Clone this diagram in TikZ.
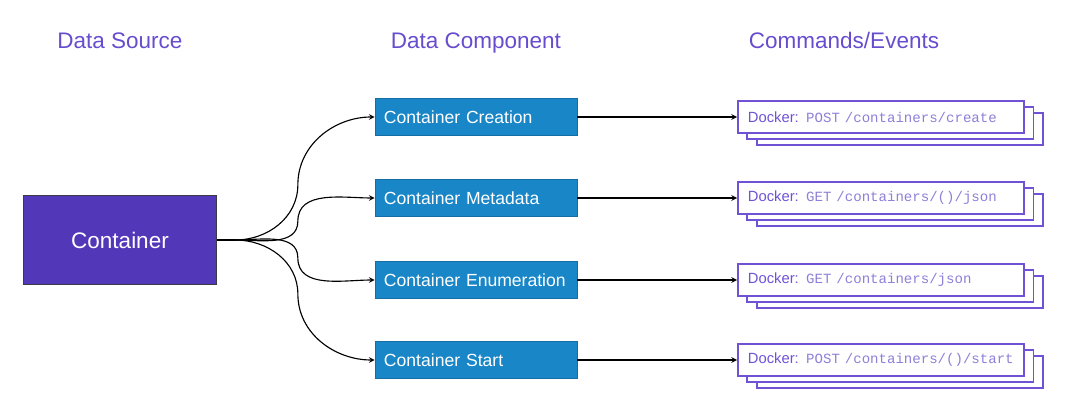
\documentclass[tikz,border=0pt]{standalone}
\usepackage{fontspec}
\setmainfont{Liberation Sans}
\setmonofont{Liberation Mono}
\usetikzlibrary{shadows,calc}

\definecolor{srcpurple}{RGB}{83,55,185}
\definecolor{srcborder}{RGB}{60,58,72}
\definecolor{compblue}{RGB}{24,134,199}
\definecolor{compborder}{RGB}{22,108,165}
\definecolor{titlepurple}{RGB}{104,76,206}
\definecolor{dockerpurple}{RGB}{112,82,212}
\definecolor{monopurple}{RGB}{142,128,216}

\begin{document}
\begin{tikzpicture}[
        x=0.025cm, y=-0.025cm,
        heading/.style={anchor=base, text=titlepurple, font=\fontsize{16}{19}\selectfont},
        source/.style={rectangle, draw=srcborder, fill=srcpurple, minimum width=4.825cm,
            minimum height=2.225cm, text=white, font=\fontsize{16}{19}\selectfont},
        component/.style={rectangle, draw=compborder, fill=compblue, text width=4.6cm,
            inner xsep=0.225cm, minimum height=0.925cm, align=left, text=white,
            font=\fontsize{12.5}{15}\selectfont},
        command/.style={rectangle, draw=dockerpurple, fill=white, line width=1.3pt,
            text width=6.65cm, inner xsep=0.25cm, minimum height=0.8cm, align=left,
            text=dockerpurple, font=\fontsize{10.5}{12}\selectfont,
            copy shadow={shadow xshift=0.475cm, shadow yshift=-0.3cm},
            copy shadow={shadow xshift=0.235cm, shadow yshift=-0.16cm}},
        arrow/.style={->, >=stealth, thick}
    ]
        \useasboundingbox (0,0) rectangle (1080,411);

        % Column headings
        \node[heading] (hsource) at (120,49) {Data Source};
        \node[heading] (hcomponent) at (476,49) {Data Component};
        \node[heading] (hcommand) at (844,49) {Commands/Events};

        % Data source
        \node[source] (container) at (120,240) {Container};
        \coordinate (hub) at (235,240);

        % Data components
        \node[component] (creation) at (476,117) {Container Creation};
        \node[component] (metadata) at (476,198) {Container Metadata};
        \node[component] (enumeration) at (476,280) {Container Enumeration};
        \node[component] (start) at (476,360) {Container Start};

        % Docker commands
        \node[command] (cmdcreate) at (881,117)
            {Docker: {\ttfamily\fontsize{10}{12}\selectfont\color{monopurple}POST /containers/create}};
        \node[command] (cmdinspect) at (881,198)
            {Docker: {\ttfamily\fontsize{10}{12}\selectfont\color{monopurple}GET /containers/()/json}};
        \node[command] (cmdlist) at (881,280)
            {Docker: {\ttfamily\fontsize{10}{12}\selectfont\color{monopurple}GET /containers/json}};
        \node[command] (cmdstart) at (881,360)
            {Docker: {\ttfamily\fontsize{10}{12}\selectfont\color{monopurple}POST /containers/()/start}};

        % Source to components
        \draw[thick] (container.east) -- (hub);
        \draw[arrow] (hub) to[out=0,in=-90] ($(hub)!0.45!(creation.west)$)
            to[out=90,in=180] (creation.west);
        \draw[arrow] (hub) to[out=0,in=-90] ($(hub)!0.45!(metadata.west)$)
            to[out=90,in=180] (metadata.west);
        \draw[arrow] (hub) to[out=0,in=90] ($(hub)!0.45!(enumeration.west)$)
            to[out=-90,in=180] (enumeration.west);
        \draw[arrow] (hub) to[out=0,in=90] ($(hub)!0.45!(start.west)$)
            to[out=-90,in=180] (start.west);

        % Components to commands
        \draw[arrow] (creation) -- (cmdcreate);
        \draw[arrow] (metadata) -- (cmdinspect);
        \draw[arrow] (enumeration) -- (cmdlist);
        \draw[arrow] (start) -- (cmdstart);
    \end{tikzpicture}
\end{document}
